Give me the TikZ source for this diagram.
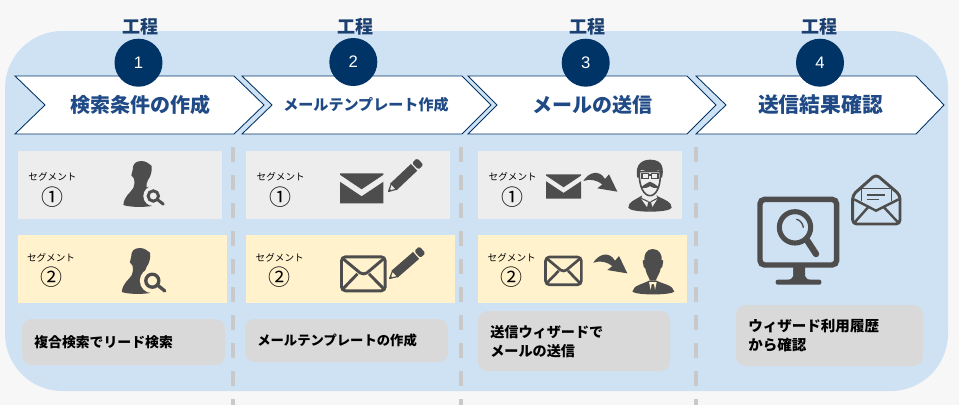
\documentclass[tikz,border=0pt]{standalone}
\usepackage{fontspec}
\setmainfont{Liberation Sans}
\newfontfamily\jp{Noto Sans CJK JP}
\definecolor{pagebg}{HTML}{F7F7F7}
\definecolor{panelblue}{HTML}{CFE2F3}
\definecolor{navy}{HTML}{003366}
\definecolor{headtxt}{HTML}{1F4A86}
\definecolor{gongtxt}{HTML}{1A3F70}
\definecolor{seggray}{HTML}{EDEDED}
\definecolor{segyellow}{HTML}{FFF2CC}
\definecolor{callout}{HTML}{D9D9D9}
\definecolor{dashgray}{HTML}{C9C9C9}
\definecolor{iconc}{HTML}{4D4D4D}
\newcommand\pxbox[6]{%
  \pgfmathsetlengthmacro\pxW{(#5-#3)*0.75pt}%
  \pgfmathsetlengthmacro\pxH{(#6-#4)*0.75pt}%
  \node[#2,minimum width=\pxW,minimum height=\pxH,inner sep=0pt,outer sep=0pt] (#1) at ({(#3+#5)/2},{(#4+#6)/2}) {};}
\newcommand\chev[6]{% name, left, notch, right, tip
  \draw[chevstyle] (#2,76) -- (#4,76) -- (#5,105) -- (#4,134) -- (#2,134) -- (#3,105) -- cycle;
  \coordinate (#1) at ({(#3+#4)/2+#6},105);}
\tikzset{
  x=0.75pt,y=-0.75pt,
  chevstyle/.style={draw=navy,line width=0.65pt,fill=white},
  stepdot/.style={circle,fill=navy,minimum size=36pt,inner sep=0pt,text=white,font=\fontsize{12.5}{14}\selectfont},
  gonglabel/.style={font=\jp\bfseries\fontsize{13.5}{15}\selectfont,text=gongtxt,inner sep=0pt},
  headlabel/.style={font=\jp\bfseries\fontsize{15}{17}\selectfont,text=headtxt,inner sep=0pt},
  headsmall/.style={font=\jp\bfseries\fontsize{11.3}{13}\selectfont,text=headtxt,inner sep=0pt},
  seglabel/.style={font=\jp\fontsize{7.2}{9}\selectfont,text=black,inner sep=0pt},
  segnum/.style={font=\jp\fontsize{16.5}{18}\selectfont,text=black,inner sep=0pt},
  calltext/.style={font=\jp\bfseries\fontsize{10.4}{14.2}\selectfont,text=black,inner sep=0pt,anchor=west,align=left},
  grayseg/.style={fill=seggray},
  yellowseg/.style={fill=segyellow},
  callbox/.style={fill=callout,rounded corners=7pt},
  sepline/.style={draw=dashgray,line width=3pt,dash pattern=on 11.6pt off 9.4pt},
  pics/personbody/.style={code={
    \fill[iconc] (95,33) .. controls (76,33) and (68,42) .. (68,60) -- (64,76) -- (72,86)
      .. controls (74,98) and (74,106) .. (70,114) .. controls (62,128) and (42,138) .. (40,165)
      .. controls (60,172) and (100,172) .. (125,168) -- (128,110) -- (110,112)
      .. controls (108,105) and (110,98) .. (114,90) .. controls (122,80) and (127,62) .. (125,48)
      .. controls (118,42) and (108,33) .. (95,33) -- cycle;}},
  pics/mag/.style={code={
    \fill[#1] (0,0) circle[radius=10];
    \fill[#1] (10.5,8.5) circle[radius=3];
    \draw[iconc] (0,0) circle[radius=5.2];
    \draw[iconc,line cap=round] (4.3,3.6) -- (10,8.2);}},
  pics/mailfilled/.style={code={
    \fill[iconc] (0,0) -- (43.3,0) -- (43.3,1.5) -- (21.65,16) -- (0,1.5) -- cycle;
    \fill[iconc] (0,8.5) -- (21.65,23) -- (43.3,8.5) -- (43.3,30) -- (0,30) -- cycle;}},
  pics/mailline/.style={code={
    \draw[iconc,rounded corners=3pt] (1.5,1.5) rectangle (45.2,35.5);
    \draw[iconc] (2.5,3) -- (20,17.5) .. controls (22,19) and (25,19) .. (27,17.5) -- (44.2,3);
    \draw[iconc] (2.5,34) -- (17.5,18.5);
    \draw[iconc] (44.2,34) -- (29,18.5);}},
  pics/pencil/.style={code={
    \draw[iconc,line width=0.9pt,line join=round] (0.5,0) -- (8,-4) -- (8,4) -- cycle;
    \fill[iconc] (0,0) -- (3,-1.6) -- (3,1.6) -- cycle;
    \fill[iconc] (7,-4.6) -- (35.5,-4.6) -- (35.5,4.6) -- (7,4.6) -- cycle;
    \fill[iconc,rounded corners=1.2pt] (37,-4.6) -- (44,-4.6) -- (44,4.6) -- (37,4.6) -- cycle;}},
  pics/bentarrow/.style={code={
    \fill[iconc] (130,78) .. controls (145,52) and (178,42) .. (195,72) -- (207,58) -- (232,110)
      -- (172,100) -- (187,88) .. controls (172,76) and (150,70) .. (130,78) -- cycle;}},
  pics/moustacheman/.style={code={
    \fill[iconc] (300,125) .. controls (285,135) and (265,140) .. (265,158)
      .. controls (270,174) and (390,174) .. (395,158) .. controls (395,140) and (375,135) .. (355,125)
      -- (345,118) -- (312,118) -- cycle;
    \fill[#1] (309,112) -- (304,132) -- (329,168) -- (352,132) -- (347,112) -- cycle;
    \fill[iconc] (325,140) -- (333,140) -- (337,158) -- (329,168) -- (321,158) -- cycle;
    \draw[iconc,line width=0.8pt] (304,130) -- (325,140) (352,130) -- (333,140);
    \draw[iconc,line width=1.2pt,fill=#1] (298,50) .. controls (296,95) and (312,122) .. (330,122)
      .. controls (348,122) and (363,95) .. (361,50) -- cycle;
    \fill[iconc] (292,68) .. controls (283,25) and (310,14) .. (330,14)
      .. controls (355,14) and (376,25) .. (366,68) -- (360,68) -- (358,46)
      .. controls (340,50) and (320,50) .. (302,44) -- (298,68) -- cycle;
    \draw[iconc,line width=1pt] (306,55) rectangle (326,71) (334,55) rectangle (354,71) (326,60) -- (334,60);
    \fill[iconc] (330,80) .. controls (320,85) and (312,88) .. (302,99)
      .. controls (315,100) and (325,98) .. (330,93) .. controls (335,98) and (345,100) .. (358,99)
      .. controls (348,88) and (340,85) .. (330,80) -- cycle;}},
  pics/bossman/.style={code={
    \fill[iconc] (338,27) .. controls (318,27) and (312,45) .. (313,60) -- (308,62) -- (311,80) -- (316,85)
      .. controls (318,100) and (325,108) .. (330,122) -- (347,122)
      .. controls (352,108) and (360,100) .. (362,85) -- (367,80) -- (370,62) -- (365,60)
      .. controls (367,45) and (358,27) .. (338,27) -- cycle;
    \fill[iconc] (327,122) .. controls (310,132) and (280,135) .. (277,155)
      .. controls (290,166) and (390,166) .. (403,155) .. controls (400,135) and (368,132) .. (350,122) -- cycle;
    \fill[#1] (327,126) -- (350,126) -- (345,150) -- (342,132) -- (335,132) -- (332,150) -- cycle;}},
  pics/monitoricon/.style={code={
    \draw[iconc,line width=4.1pt,rounded corners=3.5pt] (30,88) rectangle (260,285);
    \fill[iconc] (130,290) -- (165,290) -- (165,318) .. controls (167,326) and (175,330) .. (185,330) -- (130,330) -- cycle;
    \fill[iconc] (130,290) -- (130,318) .. controls (128,326) and (120,330) .. (110,330) -- (135,330) -- (135,290) -- cycle;
    \fill[iconc,rounded corners=1.5pt] (77,329) rectangle (214,344);
    \draw[iconc,line width=3.8pt] (135,172) circle[radius=47];
    \draw[iconc,line width=4.8pt,line cap=round] (172,212) -- (198,252);
    \draw[iconc,line width=1pt,line cap=round] (140,148) .. controls (150,150) and (158,160) .. (160,172);}},
  pics/envelopeicon/.style={code={
    \draw[iconc,line width=2.2pt,line join=round,rounded corners=3pt] (378,13) -- (308,75) -- (308,162) -- (450,162) -- (450,75) -- cycle;
    \draw[iconc,line width=1.2pt] (335,92) -- (335,55) -- (425,55) -- (425,92);
    \draw[iconc,line width=1.8pt] (312,88) -- (378,122) -- (446,88);
    \draw[iconc,line width=1.8pt] (314,157) -- (354,112) (444,157) -- (402,112);
    \draw[iconc,line width=1.2pt] (352,75) -- (406,75) (352,88) -- (386,88);}},
}
\begin{document}
\begin{tikzpicture}
\useasboundingbox (0,0) rectangle (959,405);
\fill[pagebg] (0,0) rectangle (959,405);
\pxbox{panel}{fill=panelblue,rounded corners=43pt}{5}{31}{948}{391}
% dashed separators
\foreach \n/\sx in {a/232.5,b/460.5,c/696}{
  \coordinate (sep\n t) at (\sx,147);
  \coordinate (sep\n b) at (\sx,405);
  \draw[sepline] (sep\n t) -- (sep\n b);
}
% chevrons
\chev{h1}{15}{45}{234}{264}{-6}
\chev{h2}{242}{272}{462}{491}{-6}
\chev{h3}{468}{497}{687}{716}{-9}
\chev{h4}{696}{726}{916}{944}{-6}
\node[headlabel] (t1) at (140,105) {検索条件の作成};
\node[headsmall] (t2) at (366,105) {メールテンプレート作成};
\node[headlabel] (t3) at (592,105) {メールの送信};
\node[headlabel,font=\jp\bfseries\fontsize{15.6}{17}\selectfont] (t4) at (820.5,105) {送信結果確認};
% step circles
\node[stepdot] (c1) at (138.5,62.7) {1};
\node[stepdot] (c2) at (353.3,62) {2};
\node[stepdot] (c3) at (585.7,62.7) {3};
\node[stepdot] (c4) at (820,62.7) {4};
\node[gonglabel] (g1) at (140,26.5) {工程};
\node[gonglabel] (g2) at (355,26.5) {工程};
\node[gonglabel] (g3) at (587,26.5) {工程};
\node[gonglabel] (g4) at (819,26.5) {工程};
% segment boxes
\pxbox{sg1}{grayseg}{18}{151}{222}{219}
\pxbox{sg2}{grayseg}{246}{151}{450}{219}
\pxbox{sg3}{grayseg}{478}{151}{682}{219}
\pxbox{sy1}{yellowseg}{18}{235}{227}{303}
\pxbox{sy2}{yellowseg}{246}{235}{455}{303}
\pxbox{sy3}{yellowseg}{478}{235}{687}{303}
% segment labels
\node[seglabel] (la1) at (52.5,177) {セグメント};
\node[segnum] (na1) at (52.5,196.7) {①};
\node[seglabel] (lb1) at (51,257.7) {セグメント};
\node[segnum] (nb1) at (51,276.7) {②};
\node[seglabel] (la2) at (280.7,177) {セグメント};
\node[segnum] (na2) at (280.7,196.7) {①};
\node[seglabel] (lb2) at (279.7,257.7) {セグメント};
\node[segnum] (nb2) at (279.7,276.7) {②};
\node[seglabel] (la3) at (512.7,177) {セグメント};
\node[segnum] (na3) at (512.7,196.7) {①};
\node[seglabel] (lb3) at (511.7,257.7) {セグメント};
\node[segnum] (nb3) at (511.7,276.7) {②};
% callouts
\pxbox{k1}{callbox}{22}{319}{225}{365}
\pxbox{k2}{callbox}{245}{319}{448}{362}
\pxbox{k3}{callbox}{478}{311}{670}{371}
\pxbox{k4}{callbox}{736}{305}{923}{366}
\node[calltext] (kt1) at (34,342) {複合検索でリード検索};
\node[calltext,font=\jp\bfseries\fontsize{10}{14}\selectfont] (kt2) at (257,340) {メールテンプレートの作成};
\node[calltext,font=\jp\bfseries\fontsize{10.6}{14.2}\selectfont] (kt3) at (490,341.5) {送信ウィザードで\\メールの送信};
\node[calltext,font=\jp\bfseries\fontsize{10.9}{14.2}\selectfont] (kt4) at (748,335.5) {ウィザード利用履歴\\から確認};
% icons
\pic[scale=1/3] at (110,150) {personbody};
\pic[line width=2.2pt] at (153.3,196) {mag=seggray};
\pic[scale=1/3] at (108.5,237) {personbody};
\pic[scale=1.25,line width=2.5pt] at (152.3,280.7) {mag=segyellow};
\pic at (340,173.3) {mailfilled};
\pic[rotate=43.4] at (388.3,191.7) {pencil};
\pic[line width=2.2pt] at (340,255.3) {mailline};
\pic[rotate=41] at (389.3,278.7) {pencil};
\pic[scale=0.81] at (546,174.3) {mailfilled};
\pic[scale=1/3] at (540,155) {bentarrow};
\pic[scale=1/3] at (540,155) {moustacheman=seggray};
\pic[scale=0.82,line width=2pt] at (544.3,255.7) {mailline};
\pic[scale=1/3] at (550,236.7) {bentarrow};
\pic[scale=1/3] at (540,240) {bossman=segyellow};
\pic[scale=1/3] at (750,170) {monitoricon};
\pic[scale=1/3] at (750,170) {envelopeicon};
\end{tikzpicture}
\end{document}
